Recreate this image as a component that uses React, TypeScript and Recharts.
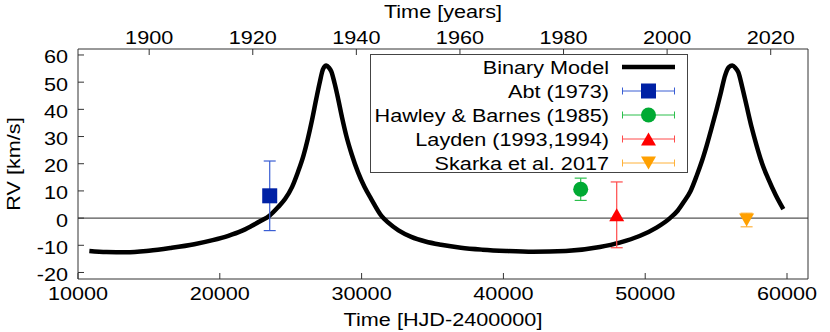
import {
  ComposedChart,
  Line,
  Scatter,
  ErrorBar,
  XAxis,
  YAxis,
  ReferenceLine,
  Legend,
} from "recharts";

// binary model curve (HJD-2400000, km/s)
const modelDays = [
  10800, 12000, 13400, 15000, 16500, 18200, 19500, 20600, 21500, 22200, 22900,
  23500, 24100, 24600, 25100, 25500, 25900, 26200, 26500, 26800, 27050, 27280,
  27510, 27700, 27860, 28100, 28340, 28620, 28920, 29300, 29750, 30200, 30680,
  31400, 31860, 32600, 33500, 34500, 35600, 37000, 38500, 40200, 42100, 44400,
  46800, 48200, 49600, 50800, 51750, 52300, 52700, 53200, 53630, 54000, 54330,
  54700, 55040, 55350, 55630, 55900, 56140, 56350, 56570, 56850, 57150, 57500,
  57860, 58250, 58680, 59200, 59740,
];
const modelRv = [
  -12.1, -12.5, -12.6, -12.0, -11.0, -9.6, -8.1, -6.5, -4.8, -3.0, -1.0,
  0.9, 4.0, 7.0, 11.5, 16.8, 23.0, 29.0, 36.0, 43.8, 50.0, 54.8,
  56.1, 55.3, 54.0, 49.5, 44.0, 37.0, 30.3, 23.5, 16.8, 11.5, 7.0,
  0.8, -1.6, -4.5, -6.9, -8.6, -9.8, -10.9, -11.6, -12.1, -12.4, -12.1,
  -10.6, -9.0, -6.6, -3.5, 0.0, 2.8, 5.8, 10.0, 15.6, 21.0, 26.6,
  33.5, 40.1, 46.5, 52.4, 55.5, 56.1, 55.3, 53.6, 48.0, 41.3, 33.5,
  26.6, 20.0, 14.4, 8.5, 3.3,
];

// measurements
const abtDay = [23520];
const abtRv = [8.2];
const abtErr = [12.8];

const hawleyDay = [45450];
const hawleyRv = [10.6];
const hawleyErr = [4.1];

const laydenDay = [47990];
const laydenRv = [1.2];
const laydenErr = [12.1];

const skarkaDay = [57150];
const skarkaRv = [-0.7];
const skarkaErr = [2.5];

const dayTicks = [10000, 20000, 30000, 40000, 50000, 60000];
const yearTicks = [1900, 1920, 1940, 1960, 1980, 2000, 2020];
const rvTicks = [-20, -10, 0, 10, 20, 30, 40, 50, 60];

const DAY_DOMAIN = [10000, 61480];
const RV_DOMAIN = [-22.4, 62.2];
// HJD 2415020 = 1900.0
const toYear = (d: number) => 1900 + (d - 15020) / 365.25;
const YEAR_DOMAIN = [toYear(DAY_DOMAIN[0]), toYear(DAY_DOMAIN[1])];

const FONT = "'Liberation Sans', Arial, Helvetica, sans-serif";
const FS = 18.5;
const SX = 1.17; // the original lettering is horizontally stretched
const FRAME = "#333";

const modelData = modelDays.map((day, i) => ({ day, rv: modelRv[i] }));
const toPoints = (days: number[], rvs: number[], errs: number[]) =>
  days.map((day, i) => ({ day, rv: rvs[i], err: errs[i] }));
// invisible anchor so the top (years) and right axes get drawn
const frameData = [
  { year: YEAR_DOMAIN[0], rv: RV_DOMAIN[0] },
  { year: YEAR_DOMAIN[1], rv: RV_DOMAIN[1] },
];

const surveys = [
  { name: "Abt (1973)", data: toPoints(abtDay, abtRv, abtErr), marker: "square", fill: "#0021a5", bar: "#3a5ed4" },
  { name: "Hawley & Barnes (1985)", data: toPoints(hawleyDay, hawleyRv, hawleyErr), marker: "circle", fill: "#00aa33", bar: "#2cbf4c" },
  { name: "Layden (1993,1994)", data: toPoints(laydenDay, laydenRv, laydenErr), marker: "up", fill: "#ff0000", bar: "#ff4a4a" },
  { name: "Skarka et al. 2017", data: toPoints(skarkaDay, skarkaRv, skarkaErr), marker: "down", fill: "#ffa000", bar: "#ffb23a" },
];

function WideText({ x, y, anchor, rotate, children }: any) {
  const rot = rotate ? ` rotate(${rotate})` : "";
  return (
    <text
      transform={`translate(${x},${y})${rot} scale(${SX},1)`}
      textAnchor={anchor}
      fontFamily={FONT}
      fontSize={FS}
      fill="#000"
    >
      {children}
    </text>
  );
}

function Marker({ kind, cx, cy, color }: any) {
  const r = 7.5;
  const h = 6.5;
  if (kind === "square")
    return <rect x={cx - r} y={cy - r} width={2 * r} height={2 * r} fill={color} />;
  if (kind === "circle") return <circle cx={cx} cy={cy} r={r} fill={color} />;
  if (kind === "up")
    return <polygon points={`${cx},${cy - h} ${cx + r},${cy + h} ${cx - r},${cy + h}`} fill={color} />;
  return <polygon points={`${cx - r},${cy - h} ${cx + r},${cy - h} ${cx},${cy + h}`} fill={color} />;
}

function LegendBox() {
  const rowY = (i: number) => 13 + 24 * i;
  return (
    <svg width={318} height={119} style={{ display: "block" }}>
      <rect x={0.5} y={0.5} width={317} height={118} fill="#fff" stroke="#444" />
      <WideText x={239} y={rowY(0) + 6.6} anchor="end">Binary Model</WideText>
      <line x1={252} x2={305} y1={rowY(0)} y2={rowY(0)} stroke="#000" strokeWidth={4.5} />
      {surveys.map((s, i) => {
        const y = rowY(i + 1);
        return (
          <g key={s.name}>
            <WideText x={239} y={y + 6.6} anchor="end">{s.name}</WideText>
            <line x1={252} x2={305} y1={y} y2={y} stroke={s.bar} />
            <line x1={252.5} x2={252.5} y1={y - 3.5} y2={y + 3.5} stroke={s.bar} />
            <line x1={304.5} x2={304.5} y1={y - 3.5} y2={y + 3.5} stroke={s.bar} />
            <Marker kind={s.marker} cx={278.5} cy={y} color={s.fill} />
          </g>
        );
      })}
    </svg>
  );
}

export default function App() {
  return (
    <div style={{ position: "absolute", left: 0, top: 0, width: 830, height: 332, background: "#fff" }}>
      <ComposedChart width={830} height={332} margin={{ top: 0, right: 0, bottom: 0, left: 0 }}>
        <XAxis
          xAxisId="days"
          dataKey="day"
          type="number"
          domain={DAY_DOMAIN}
          ticks={dayTicks}
          height={53}
          stroke={FRAME}
          tickSize={-6}
          tickMargin={20.5}
          tick={(p: any) => (
            <WideText x={p.x} y={p.y + 6.6} anchor="middle">{p.payload.value}</WideText>
          )}
          label={{
            content: (p: any) => (
              <WideText x={p.viewBox.x + p.viewBox.width / 2} y={p.viewBox.y + 46.5} anchor="middle">
                Time [HJD-2400000]
              </WideText>
            ),
          }}
        />
        <XAxis
          xAxisId="years"
          dataKey="year"
          orientation="top"
          type="number"
          domain={YEAR_DOMAIN}
          allowDataOverflow
          ticks={yearTicks}
          height={49}
          stroke={FRAME}
          tickSize={-6}
          tickMargin={17.5}
          tick={(p: any) => (
            <WideText x={p.x} y={p.y + 6.6} anchor="middle">{p.payload.value}</WideText>
          )}
          label={{
            content: (p: any) => (
              <WideText x={p.viewBox.x + p.viewBox.width / 2} y={17.5} anchor="middle">
                Time [years]
              </WideText>
            ),
          }}
        />
        <YAxis
          yAxisId="rv"
          type="number"
          domain={RV_DOMAIN}
          ticks={rvTicks}
          width={78}
          stroke={FRAME}
          tickSize={-6}
          tickMargin={16}
          tick={(p: any) => (
            <WideText x={p.x} y={p.y + 8.4} anchor="end">{p.payload.value}</WideText>
          )}
          label={{
            content: (p: any) => (
              <WideText x={19.6} y={p.viewBox.y + p.viewBox.height / 2} anchor="middle" rotate={-90}>
                RV [km/s]
              </WideText>
            ),
          }}
        />
        <YAxis
          yAxisId="mirror"
          orientation="right"
          type="number"
          domain={RV_DOMAIN}
          allowDataOverflow
          ticks={rvTicks}
          width={22}
          stroke={FRAME}
          tickSize={-6}
          tick={false}
        />
        <Line
          xAxisId="years"
          yAxisId="mirror"
          data={frameData}
          dataKey="rv"
          stroke="none"
          dot={false}
          activeDot={false}
          legendType="none"
          isAnimationActive={false}
        />
        <ReferenceLine xAxisId="days" yAxisId="rv" y={0} stroke="#555" strokeWidth={1.2} />
        <Line
          xAxisId="days"
          yAxisId="rv"
          data={modelData}
          dataKey="rv"
          name="Binary Model"
          type="monotone"
          stroke="#000"
          strokeWidth={4.5}
          strokeLinejoin="round"
          dot={false}
          isAnimationActive={false}
        />
        {surveys.map((s) => (
          <Scatter
            key={s.name}
            xAxisId="days"
            yAxisId="rv"
            name={s.name}
            data={s.data}
            dataKey="rv"
            fill={s.fill}
            shape={(p: any) => <Marker kind={s.marker} cx={p.cx} cy={p.cy} color={s.fill} />}
            isAnimationActive={false}
          >
            <ErrorBar dataKey="err" direction="y" width={6} stroke={s.bar} strokeWidth={1.2} isAnimationActive={false} />
          </Scatter>
        ))}
        <Legend
          layout="horizontal"
          verticalAlign="middle"
          content={() => <LegendBox />}
          wrapperStyle={{ left: 370, top: 54, width: 318, height: 119 }}
        />
      </ComposedChart>
    </div>
  );
}
